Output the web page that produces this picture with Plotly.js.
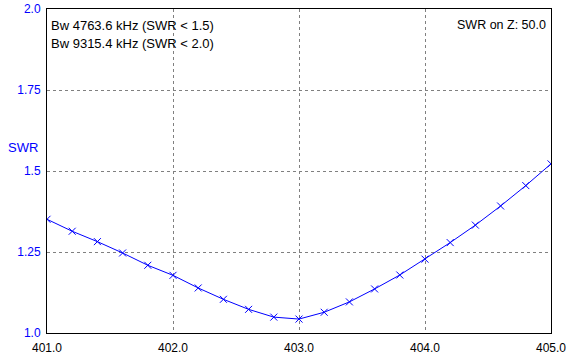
<!DOCTYPE html>
<html>
<head>
<meta charset="utf-8">
<script src="https://cdn.plot.ly/plotly-3.0.1.min.js"></script>
<style>html,body{margin:0;padding:0;background:#fff;}#chart{width:584px;height:358px;}</style>
</head>
<body>
<div id="chart"></div>
<script>
const freqMHz = [401.0, 401.2, 401.4, 401.6, 401.8, 402.0, 402.2, 402.4, 402.6, 402.8, 403.0,
                 403.2, 403.4, 403.6, 403.8, 404.0, 404.2, 404.4, 404.6, 404.8, 405.0];
const swr = [1.351, 1.314, 1.282, 1.247, 1.209, 1.178, 1.139, 1.104, 1.073, 1.049, 1.043,
             1.064, 1.096, 1.136, 1.179, 1.228, 1.279, 1.333, 1.392, 1.455, 1.522];
const xTicks = [401, 402, 403, 404, 405];
const xTickLabels = ["401.0", "402.0", "403.0", "404.0", "405.0"];
const yTicks = [1.0, 1.25, 1.5, 1.75, 2.0];
const yTickLabels = ["1.0", "1.25", "1.5", "1.75", "2.0"];
const infoLines = ["Bw 4763.6 kHz (SWR &lt; 1.5)", "Bw 9315.4 kHz (SWR &lt; 2.0)"];
const zText = "SWR on Z: 50.0";
const yLabel = "SWR";

const font = "Liberation Sans, Arial, sans-serif";

const trace = {
  x: freqMHz, y: swr, type: 'scatter', mode: 'lines+markers',
  line: {color: '#0000FF', width: 1},
  marker: {symbol: 'x-thin-open', size: 7, color: '#0000FF', line: {color: '#0000FF', width: 1}},
  hoverinfo: 'skip'
};

const layout = {
  width: 584, height: 358,
  margin: {l: 47, r: 33, t: 9, b: 25, pad: 0},
  paper_bgcolor: '#ffffff', plot_bgcolor: '#ffffff',
  showlegend: false,
  font: {family: font, size: 12, color: '#000000'},
  xaxis: {
    range: [401, 405], tickmode: 'array', tickvals: xTicks, ticktext: xTickLabels,
    showgrid: true, gridcolor: '#808080', griddash: '3px,3px', gridwidth: 1,
    showline: true, linecolor: '#000000', linewidth: 1, mirror: true,
    zeroline: false, ticks: '', ticklabelstandoff: 4,
    tickfont: {family: font, size: 12, color: '#000000'}
  },
  yaxis: {
    range: [1.0, 2.0], tickmode: 'array', tickvals: yTicks, ticktext: yTickLabels,
    showgrid: true, gridcolor: '#808080', griddash: '3px,3px', gridwidth: 1,
    showline: true, linecolor: '#000000', linewidth: 1, mirror: true,
    zeroline: false, ticks: '', ticklabelstandoff: 3,
    tickfont: {family: font, size: 12, color: '#0000FF'}
  },
  annotations: [
    {xref: 'paper', yref: 'paper', x: 0.004, y: 0.95, xanchor: 'left', yanchor: 'middle',
     text: infoLines[0], showarrow: false, font: {family: font, size: 13, color: '#000000'}},
    {xref: 'paper', yref: 'paper', x: 0.004, y: 0.895, xanchor: 'left', yanchor: 'middle',
     text: infoLines[1], showarrow: false, font: {family: font, size: 13, color: '#000000'}},
    {xref: 'paper', yref: 'paper', x: 0.994, y: 0.95, xanchor: 'right', yanchor: 'middle',
     text: zText, showarrow: false, font: {family: font, size: 12.5, color: '#000000'}},
    {xref: 'paper', yref: 'paper', x: -0.0476, y: 0.574, xanchor: 'center', yanchor: 'middle',
     text: yLabel, showarrow: false, font: {family: font, size: 13, color: '#0000FF'}}
  ]
};

Plotly.newPlot('chart', [trace], layout, {staticPlot: true, displayModeBar: false});
</script>
</body>
</html>
